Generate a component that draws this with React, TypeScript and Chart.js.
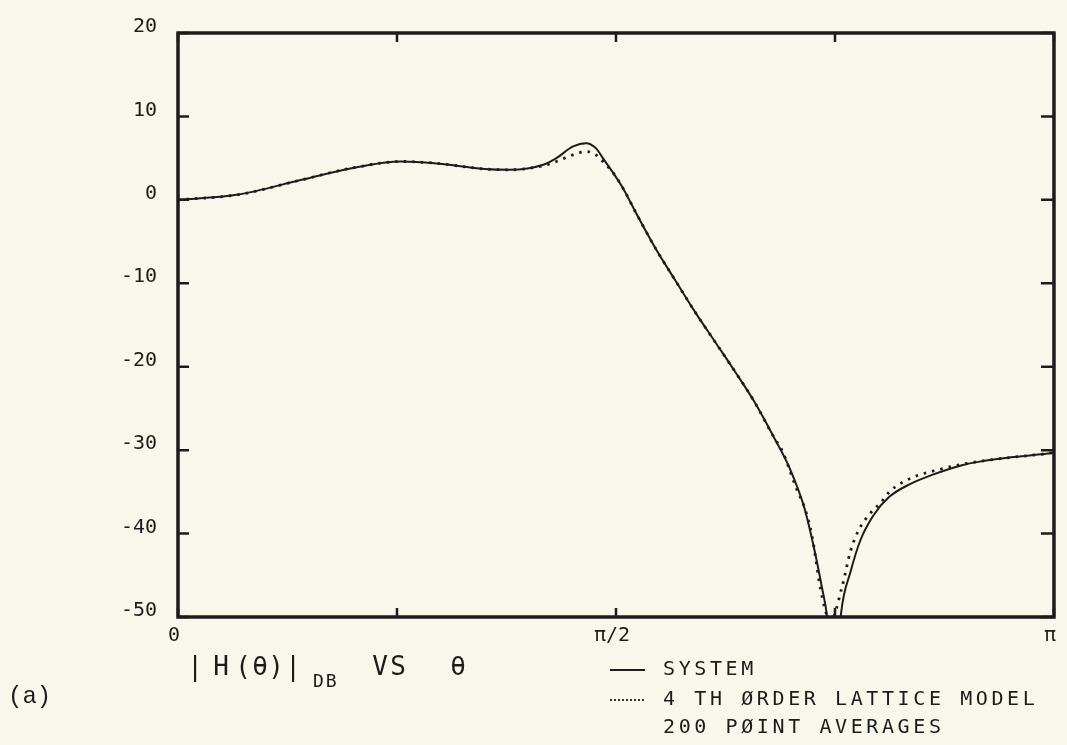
import React, { useEffect, useRef } from "react";
import { Chart, registerables } from "chart.js";

Chart.register(...registerables);

// theta as a fraction of pi
const systemX = [0, 0.067, 0.141, 0.198, 0.255, 0.293, 0.35, 0.379, 0.417, 0.432, 0.451, 0.466, 0.477, 0.485, 0.497, 0.508, 0.523, 0.545, 0.568, 0.59, 0.613, 0.636, 0.658, 0.681, 0.698, 0.715, 0.726, 0.735, 0.741, 0.749, 0.757, 0.768, 0.779, 0.794, 0.812, 0.835, 0.86, 0.895, 0.94, 0.985, 1.0];
const systemY = [0, 0.6, 2.4, 3.8, 4.6, 4.4, 3.7, 3.6, 4.2, 5.0, 6.4, 6.8, 6.2, 5.0, 3.2, 1.4, -1.6, -5.8, -9.7, -13.4, -17, -20.6, -24.2, -28.6, -32.1, -36.9, -41.7, -46.4, -50, -60, -49.5, -44.5, -40.8, -37.8, -35.6, -34.1, -33.0, -31.8, -31.0, -30.5, -30.3];

const modelX = [0, 0.067, 0.141, 0.198, 0.255, 0.293, 0.35, 0.379, 0.417, 0.432, 0.451, 0.466, 0.477, 0.485, 0.497, 0.508, 0.523, 0.545, 0.568, 0.59, 0.613, 0.636, 0.658, 0.681, 0.689, 0.698, 0.707, 0.714, 0.719, 0.724, 0.728, 0.733, 0.745, 0.758, 0.768, 0.778, 0.79, 0.803, 0.813, 0.838, 0.87, 0.895, 0.94, 0.985, 1.0];
const modelY = [0, 0.6, 2.4, 3.8, 4.6, 4.4, 3.7, 3.6, 4.1, 4.6, 5.4, 5.8, 5.4, 4.6, 3.2, 1.4, -1.6, -5.8, -9.7, -13.4, -17, -20.6, -24.2, -28.6, -29.9, -32.3, -34.9, -36.5, -38.2, -40.4, -43, -46.4, -50.5, -46.4, -42, -39.4, -37.6, -36.2, -34.9, -33.3, -32.3, -31.7, -31.0, -30.5, -30.3];

const xTickValues = [0, 0.25, 0.5, 0.75, 1];
const xTickLabels = ["0", "", "π/2", "", "π"];
const yTickValues = [20, 10, 0, -10, -20, -30, -40, -50];
const legendLabels = ["SYSTEM", "4 TH ØRDER LATTICE MODEL", "200 PØINT AVERAGES"];

const INK = "#1c1c1c";
const BG = "#f8f7ec";
const MONO = "'DejaVu Sans Mono', monospace";

export default function App() {
  const ref = useRef<HTMLCanvasElement>(null);

  useEffect(() => {
    const canvas = ref.current!;
    const framePlugin = {
      id: "frame",
      beforeDraw(chart: any) {
        const { ctx } = chart;
        ctx.save();
        ctx.fillStyle = BG;
        ctx.fillRect(0, 0, chart.width, chart.height);
        ctx.restore();
      },
      afterDatasetsDraw(chart: any) {
        const { ctx, chartArea: a, scales } = chart;
        ctx.save();
        ctx.strokeStyle = INK;
        ctx.lineWidth = 3.5;
        ctx.lineJoin = "miter";
        ctx.strokeRect(a.left, a.top, a.right - a.left, a.bottom - a.top);
        ctx.lineWidth = 2.5;
        ctx.beginPath();
        for (const v of yTickValues) {
          const y = scales.y.getPixelForValue(v);
          ctx.moveTo(a.left, y);
          ctx.lineTo(a.left + 11, y);
          ctx.moveTo(a.right, y);
          ctx.lineTo(a.right - 13, y);
        }
        for (const v of xTickValues) {
          const x = scales.x.getPixelForValue(v);
          ctx.moveTo(x, a.top);
          ctx.lineTo(x, a.top + 9);
          ctx.moveTo(x, a.bottom);
          ctx.lineTo(x, a.bottom - 9);
        }
        ctx.stroke();
        ctx.restore();
      },
      afterDraw(chart: any) {
        const { ctx } = chart;
        ctx.save();
        ctx.fillStyle = INK;
        ctx.textBaseline = "middle";
        // (a)
        ctx.font = "24px 'Liberation Mono', monospace";
        ctx.textAlign = "left";
        ctx.fillText("(a)", 8, 697);
        // axis title  | H (θ) | DB VS θ
        ctx.font = `26px ${MONO}`;
        ctx.textAlign = "center";
        const parts: [string, number][] = [["|", 195], ["H", 221], ["(", 243], ["θ", 260], [")", 276], ["|", 293], ["V", 380], ["S", 398], ["θ", 458]];
        for (const [t, x] of parts) ctx.fillText(t, x, 668);
        ctx.font = `18px ${MONO}`;
        ctx.textAlign = "left";
        (ctx as any).letterSpacing = "2px";
        ctx.fillText("DB", 313, 682);
        // legend
        ctx.font = `20px ${MONO}`;
        (ctx as any).letterSpacing = "3.6px";
        ctx.fillText(legendLabels[0], 663, 670);
        ctx.fillText(legendLabels[1], 663, 700);
        ctx.fillText(legendLabels[2], 663, 728);
        (ctx as any).letterSpacing = "0px";
        ctx.strokeStyle = INK;
        ctx.lineWidth = 1.8;
        ctx.beginPath();
        ctx.moveTo(610, 670);
        ctx.lineTo(645, 670);
        ctx.stroke();
        ctx.setLineDash([2, 2]);
        ctx.beginPath();
        ctx.moveTo(610, 700);
        ctx.lineTo(645, 700);
        ctx.stroke();
        ctx.restore();
      },
    };

    const chart = new Chart(canvas, {
      type: "line",
      data: {
        datasets: [
          {
            label: legendLabels[0],
            data: systemX.map((x, i) => ({ x, y: systemY[i] })),
            borderColor: INK,
            borderWidth: 2,
            pointRadius: 0,
            cubicInterpolationMode: "monotone",
          },
          {
            label: legendLabels[1],
            data: modelX.map((x, i) => ({ x, y: modelY[i] })),
            borderColor: INK,
            borderWidth: 2.8,
            borderDash: [2.5, 6],
            pointRadius: 0,
            cubicInterpolationMode: "monotone",
          },
        ],
      },
      options: {
        animation: false,
        responsive: false,
        devicePixelRatio: 1,
        layout: { padding: { top: 29, right: 5, left: 0, bottom: 0 } },
        plugins: { legend: { display: false }, tooltip: { enabled: false } },
        scales: {
          x: {
            type: "linear",
            min: 0,
            max: 1,
            afterBuildTicks: (s: any) => {
              s.ticks = xTickValues.map((value) => ({ value }));
            },
            afterFit: (s: any) => {
              s.height = 128;
            },
            grid: { display: false, drawTicks: false },
            border: { display: false },
            ticks: {
              autoSkip: false,
              maxRotation: 0,
              padding: 7,
              labelOffset: -4,
              color: INK,
              font: { family: "DejaVu Sans Mono", size: 20 },
              callback: (v: any) => {
                const i = xTickValues.indexOf(Number(v));
                return i >= 0 ? xTickLabels[i] : "";
              },
            },
          },
          y: {
            type: "linear",
            min: -50,
            max: 20,
            afterBuildTicks: (s: any) => {
              s.ticks = yTickValues.map((value) => ({ value }));
            },
            afterFit: (s: any) => {
              s.width = 178;
            },
            grid: { display: false, drawTicks: false },
            border: { display: false },
            ticks: {
              padding: 21,
              labelOffset: -6,
              color: INK,
              font: { family: "DejaVu Sans Mono", size: 20 },
            },
          },
        },
      },
      plugins: [framePlugin],
    } as any);
    return () => chart.destroy();
  }, []);

  return (
    <div style={{ position: "fixed", left: 0, top: 0, width: 1067, height: 745, background: BG }}>
      <canvas ref={ref} width={1067} height={745} style={{ display: "block" }} />
    </div>
  );
}
